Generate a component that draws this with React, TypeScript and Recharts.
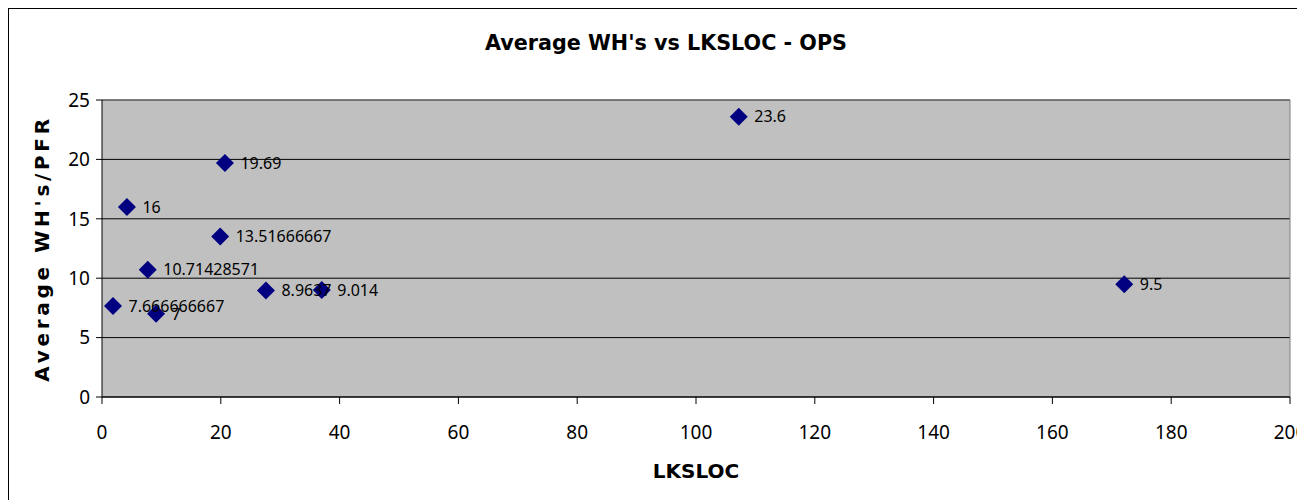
import React from "react";
import {
  ScatterChart,
  Scatter,
  XAxis,
  YAxis,
  CartesianGrid,
  ReferenceLine,
  LabelList,
} from "recharts";

const lksloc = [1.85, 4.2, 7.7, 9.1, 19.9, 20.7, 27.6, 37.0, 107.2, 172.1];
const avgWh = [7.666666667, 16, 10.71428571, 7, 13.51666667, 19.69, 8.9637, 9.014, 23.6, 9.5];
const pointLabels = [
  "7.666666667",
  "16",
  "10.71428571",
  "7",
  "13.51666667",
  "19.69",
  "8.9637",
  "9.014",
  "23.6",
  "9.5",
];
const xTicks = [0, 20, 40, 60, 80, 100, 120, 140, 160, 180, 200];
const yTicks = [0, 5, 10, 15, 20, 25];

const data = lksloc.map((x, i) => ({ x, y: avgWh[i], label: pointLabels[i] }));

const FONT = "'Noto Sans', 'Liberation Sans', Arial, sans-serif";
const BOLD_FONT = "'DejaVu Sans', Verdana, sans-serif";

const Diamond = (props: any) => {
  const { cx, cy } = props;
  const r = 9;
  return (
    <polygon
      points={`${cx},${cy - r} ${cx + r},${cy} ${cx},${cy + r} ${cx - r},${cy}`}
      fill="#000080"
    />
  );
};

export default function App() {
  return (
    <div
      style={{
        position: "relative",
        width: 1296,
        height: 491,
        borderLeft: "1px solid #000",
        borderTop: "1px solid #000",
        fontFamily: FONT,
      }}
    >
      <div
        style={{
          position: "absolute",
          left: 0,
          width: 1296,
          top: 19,
          textAlign: "center",
          fontWeight: "bold",
          fontSize: 20.7,
          lineHeight: "30px",
          paddingLeft: 18,
          boxSizing: "border-box",
          fontFamily: BOLD_FONT,
        }}
      >
        Average WH's vs LKSLOC - OPS
      </div>
      <ScatterChart
        width={1296}
        height={491}
        margin={{ top: 91, right: 15, bottom: 43, left: 33 }}
        style={{ fontFamily: FONT }}
      >
        <CartesianGrid
          fill="#C0C0C0"
          stroke="#000"
          strokeWidth={1}
          vertical={false}
          horizontalValues={yTicks}
        />
        <ReferenceLine y={25} stroke="#808080" strokeWidth={1} />
        <ReferenceLine x={200} stroke="#808080" strokeWidth={1} />
        <XAxis
          type="number"
          dataKey="x"
          domain={[0, 200]}
          ticks={xTicks}
          interval={0}
          height={60}
          stroke="#000"
          tickSize={7}
          tick={{ fill: "#000", fontSize: 19, dy: 20 }}
          label={(p: any) => {
            const vb = p.viewBox;
            return (
              <text
                x={vb.x + vb.width / 2}
                y={462}
                textAnchor="middle"
                dominantBaseline="central"
                fontWeight="bold"
                fontSize={20}
                fontFamily={BOLD_FONT}
                fill="#000"
              >
                LKSLOC
              </text>
            );
          }}
        />
        <YAxis
          type="number"
          dataKey="y"
          domain={[0, 25]}
          ticks={yTicks}
          interval={0}
          width={60}
          stroke="#000"
          tickSize={6}
          tick={{ fill: "#000", fontSize: 19, dx: -4 }}
          label={(p: any) => {
            const vb = p.viewBox;
            const cy = vb.y + vb.height / 2;
            return (
              <text
                x={33}
                y={cy}
                textAnchor="middle"
                dominantBaseline="central"
                fontWeight="bold"
                fontSize={20}
                fontFamily={BOLD_FONT}
                letterSpacing={3.7}
                fill="#000"
                transform={`rotate(-90, 33, ${cy})`}
              >
                Average WH's/PFR
              </text>
            );
          }}
        />
        <Scatter data={data} shape={<Diamond />} isAnimationActive={false}>
          <LabelList
            dataKey="label"
            position="right"
            offset={11}
            fill="#000"
            fontSize={16}
          />
        </Scatter>
      </ScatterChart>
    </div>
  );
}
